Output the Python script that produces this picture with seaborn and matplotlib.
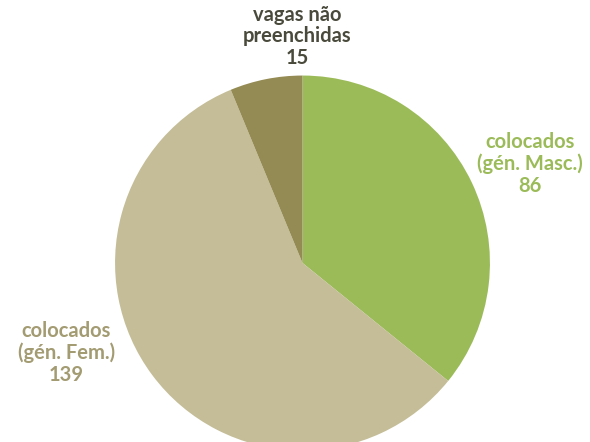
import matplotlib
matplotlib.use("Agg")
import matplotlib.pyplot as plt
import seaborn as sns

sns.set_theme(style="white")
plt.rcParams["font.family"] = ["Lato", "DejaVu Sans"]

categories = ["colocados\n(gén. Masc.)", "colocados\n(gén. Fem.)", "vagas não\npreenchidas"]
values = [86, 139, 15]
colors = ["#9BBB59", "#C4BD97", "#948A54"]
label_colors = ["#9BBB59", "#A39B72", "#4A4A3C"]

fig = plt.figure(figsize=(5.9, 4.42), dpi=100)
ax = fig.add_axes([0, 0, 1, 1])
ax.pie(values, colors=colors, startangle=90, counterclock=False,
       radius=1.0, center=(0, 0), wedgeprops=dict(linewidth=0))
ax.set_aspect("equal")
ax.set_xlim(-1.613, 1.533)
ax.set_ylim(-0.955, 1.403)
ax.axis("off")

label_pos = [(1.215, 0.528), (-1.261, -0.48), (-0.03, 1.21)]
for cat, val, (x, y), c in zip(categories, values, label_pos, label_colors):
    ax.text(x, y, f"{cat}\n{val}", ha="center", va="center", color=c,
            fontsize=14.5, fontweight="bold", linespacing=1.1)

fig.savefig("out.png", dpi=100)
